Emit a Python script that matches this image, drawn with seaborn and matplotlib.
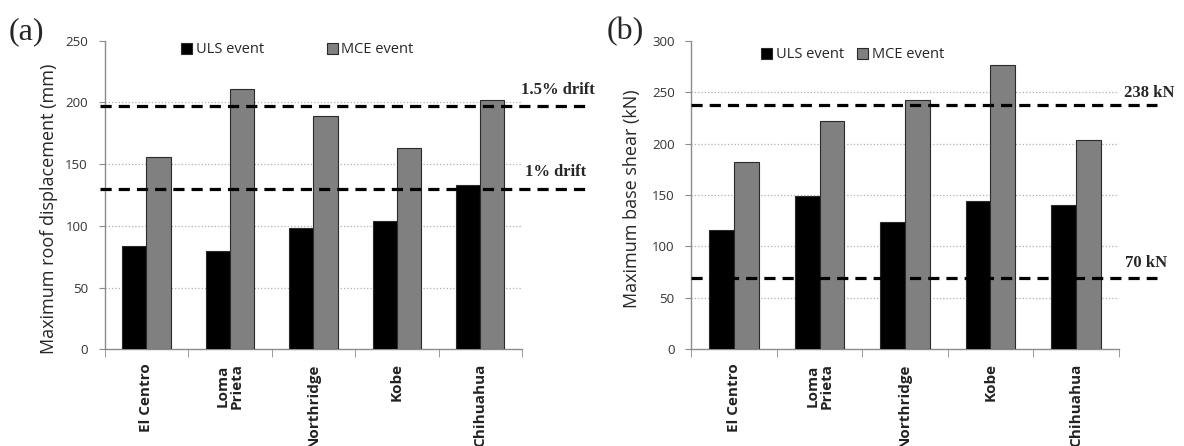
import seaborn as sns
import pandas as pd
import matplotlib.pyplot as plt
from matplotlib.ticker import FixedLocator

records = ['El Centro', 'Loma\nPrieta', 'Northridge', 'Kobe', 'Chihuahua']
events = ['ULS event', 'MCE event']

# (a) roof displacement (mm)
disp_uls = [84, 80, 98, 104, 133]
disp_mce = [156, 211, 189, 163, 202]
drift_levels = [197, 130]
drift_labels = ['1.5% drift', '1% drift']

# (b) base shear (kN)
shear_uls = [116, 149, 124, 144, 140]
shear_mce = [182, 222, 242, 276, 203]
shear_levels = [237, 69]
shear_labels = ['238 kN', '70 kN']


def long_df(uls, mce):
    return pd.DataFrame({
        'record': records * 2,
        'event': [events[0]] * 5 + [events[1]] * 5,
        'value': uls + mce,
    })


sns.set_style('white')
plt.rcParams['font.family'] = ['Open Sans', 'DejaVu Sans']

fig = plt.figure(figsize=(11.84, 4.46), dpi=100)
ax1 = fig.add_axes([0.0883, 0.2168, 0.3526, 0.692])
ax2 = fig.add_axes([0.5839, 0.2168, 0.3609, 0.692])

panels = [
    (ax1, long_df(disp_uls, disp_mce), 250, 'Maximum roof displacement (mm)',
     drift_levels),
    (ax2, long_df(shear_uls, shear_mce), 300, 'Maximum base shear (kN)',
     shear_levels),
]

for ax, df, ytop, ylab, levels in panels:
    sns.barplot(data=df, x='record', y='value', hue='event',
                palette=['black', '#808080'], width=0.58,
                edgecolor='#2a2a2a', linewidth=0.8, ax=ax, zorder=3)
    ax.set_ylim(0, ytop)
    ax.set_xlim(-0.5, 4.5)
    ax.set_yticks(range(0, ytop + 1, 50))
    ax.yaxis.grid(True, color='#b0b0b0', linestyle=':', linewidth=0.9)
    ax.set_axisbelow(True)
    ax.get_ygridlines()[-1].set_visible(False)
    ax.get_ygridlines()[0].set_visible(False)
    for s in ['top', 'right']:
        ax.spines[s].set_visible(False)
    for s in ['left', 'bottom']:
        ax.spines[s].set_color('#8c8c8c')
        ax.spines[s].set_linewidth(1.0)

    ax.tick_params(axis='y', length=4, color='#8c8c8c', labelsize=9.5,
                   labelcolor='#333333', pad=8, left=True)
    ax.xaxis.set_minor_locator(FixedLocator([-0.5, 0.5, 1.5, 2.5, 3.5, 4.5]))
    ax.tick_params(axis='x', which='minor', length=6, color='#8c8c8c',
                   bottom=True)
    ax.tick_params(axis='x', which='major', length=0, pad=10)
    ax.set_xticks(range(5))
    ax.set_xticklabels(records, rotation=90, fontsize=11,
                       fontweight='bold', color='#222222', linespacing=1.0)
    ax.set_xlabel('')
    ax.set_ylabel(ylab, fontsize=13)

    # limit lines run past the plot area to their labels
    xs = [-0.55, 5.3] if ax is ax1 else [-0.5, 4.95]
    for lvl in levels:
        ax.plot(xs, [lvl, lvl], color='black', linewidth=2.3,
                linestyle=(0, (3.5, 2.2)), clip_on=False, zorder=4)

ax1.yaxis.set_label_coords(-0.112, 0.455)
ax2.yaxis.set_label_coords(-0.118, 0.487)

fig.text(0.022, 0.93, '(a)', fontsize=23, family='Liberation Serif',
         ha='center', va='center')
fig.text(0.528, 0.93, '(b)', fontsize=23, family='Liberation Serif',
         ha='center', va='center')

ax1.text(4.49, 210, drift_labels[0], fontsize=12, fontweight='bold',
         family='Liberation Serif', va='center', ha='left')
ax1.text(4.53, 144, drift_labels[1], fontsize=12, fontweight='bold',
         family='Liberation Serif', va='center', ha='left')
ax2.text(4.56, 249, shear_labels[0], fontsize=12, fontweight='bold',
         family='Liberation Serif', va='center', ha='left')
ax2.text(4.58, 84, shear_labels[1], fontsize=12, fontweight='bold',
         family='Liberation Serif', va='center', ha='left')

ax1.legend(loc='center left', bbox_to_anchor=(0.17, 0.97), ncol=2,
           frameon=False, fontsize=10.5, handlelength=0.75, handleheight=0.75,
           handletextpad=0.25, columnspacing=4.3, borderaxespad=0)
ax2.legend(loc='center left', bbox_to_anchor=(0.15, 0.954), ncol=2,
           frameon=False, fontsize=10.5, handlelength=0.75, handleheight=0.75,
           handletextpad=0.25, columnspacing=0.9, borderaxespad=0)

fig.savefig('out.png', dpi=100)
